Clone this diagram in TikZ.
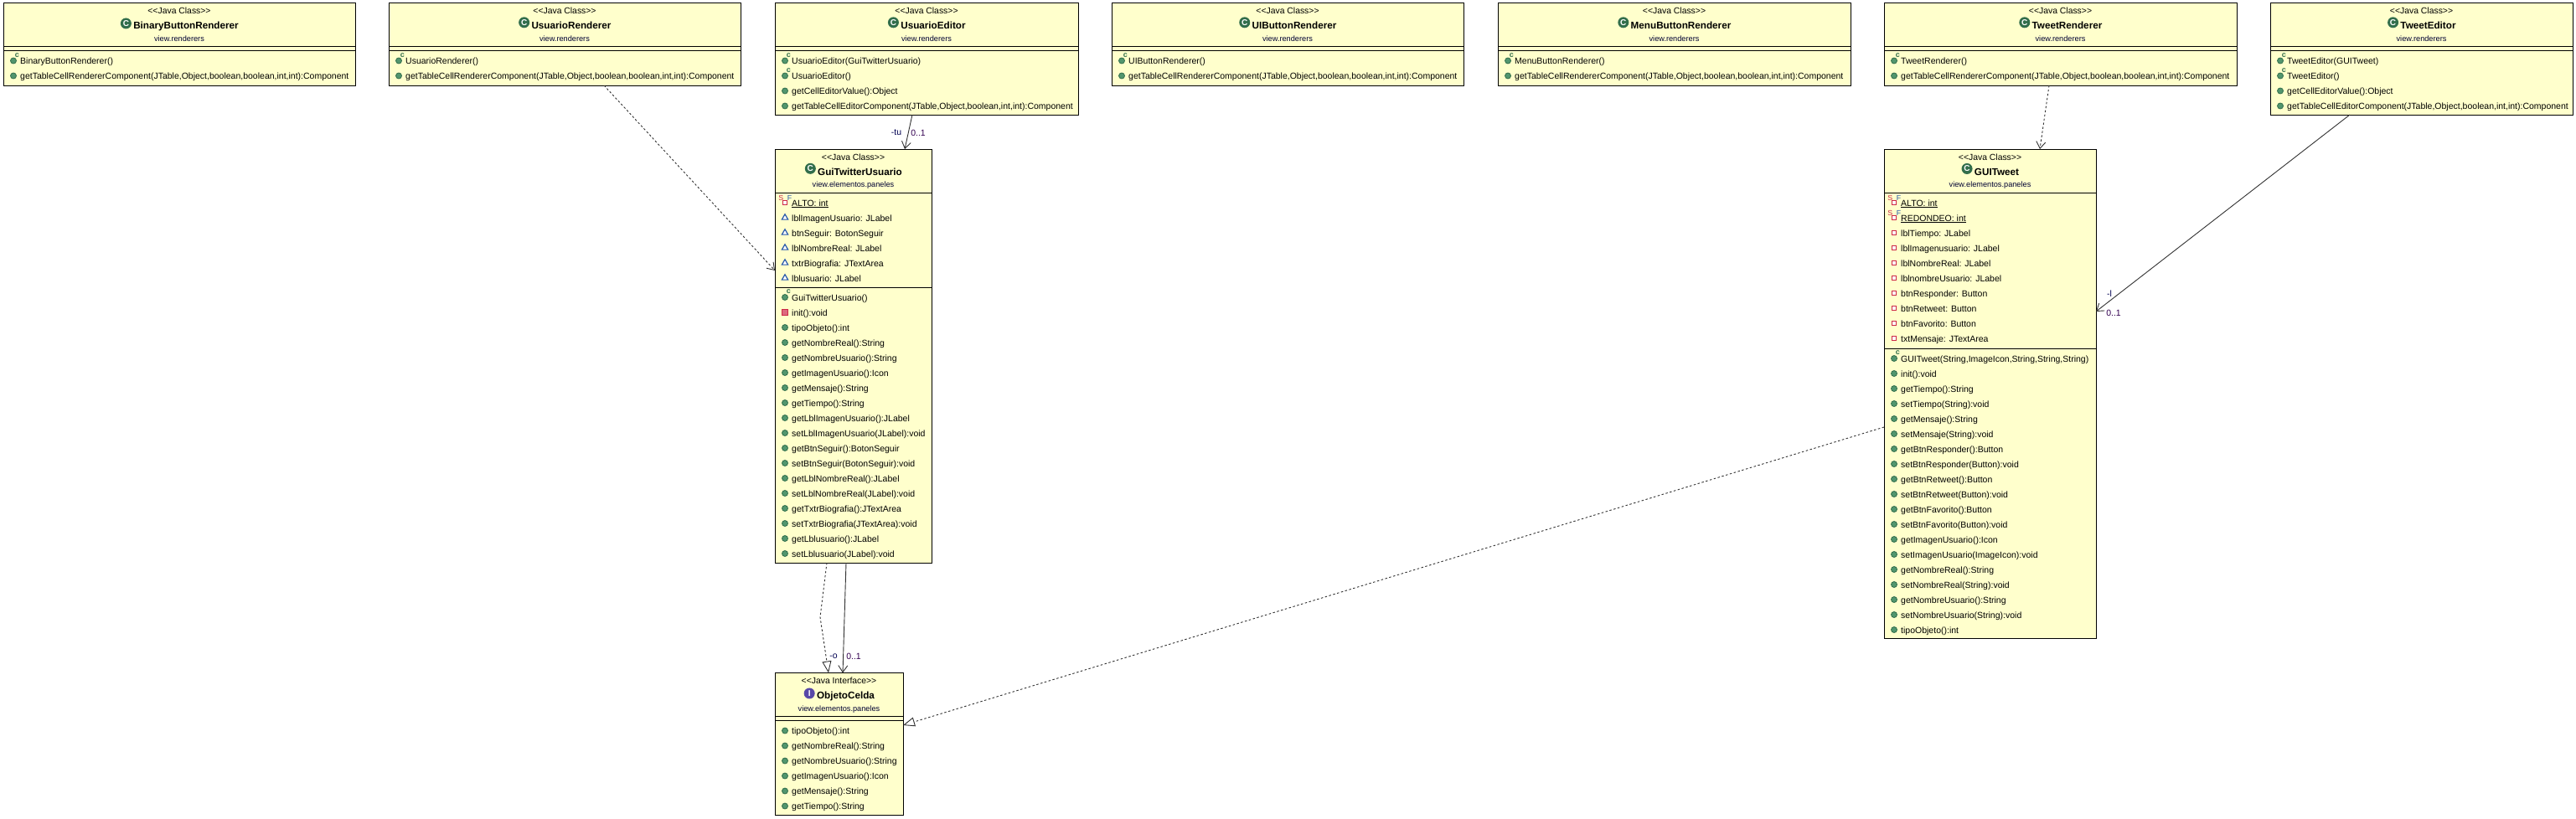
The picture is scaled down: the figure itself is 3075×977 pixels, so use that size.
\documentclass[tikz,border=0pt]{standalone}
\usepackage{fontspec}
\setmainfont{Liberation Sans}
\usetikzlibrary{arrows.meta, calc, positioning, shapes.geometric}
\definecolor{boxfill}{RGB}{255,255,204}
\definecolor{icongreen}{RGB}{82,150,110}
\definecolor{icondark}{RGB}{50,110,75}
\definecolor{iconpurple}{RGB}{88,72,168}
\definecolor{iconred}{RGB}{205,40,70}
\definecolor{iconblue}{RGB}{40,90,170}
\definecolor{rolecol}{RGB}{0,0,80}
\definecolor{mulcol}{RGB}{50,0,80}
\definecolor{linecol}{RGB}{50,50,50}

% one box with its header
\newcommand{\umlclass}[8]{%
    \node[classbox, minimum width=#4, minimum height=#5] (#1) at (#2,#3) {};
    \node[stereo] (#1-st) at ($(#1.north)+(0,13)$) {{<}{<}#6{>}{>}};
    \node[title] (#1-nm) at ($(#1.north)+(8,31)$) {#1};
    \node[#7, left=2pt of #1-nm.west, yshift=3.5pt] (#1-ic) {};
    \node[pack] (#1-pk) at ($(#1.north)+(0,45.5)$) {#8};
}
% rows of a compartment: name, offset of first row, icon/text list
\newcommand{\umlrows}[3]{%
    \foreach \ico/\txt [count=\i from 0] in {#3} {
        \node[rowtxt] (#1-#2-t\i) at ($(#1.north west)+(20,#2+\i*18+4)$) {\txt};
        \node[\ico] (#1-#2-i\i) at ($(#1.north west)+(12,#2+\i*18)$) {};
    }
}
\newcommand{\umldiv}[2]{%
    \draw[divider] ([yshift=-#2]#1.north west) -- ([yshift=-#2]#1.north east);
}

\begin{document}
\begin{tikzpicture}[
    x=1pt, y=-1pt,
    classbox/.style={draw=black, fill=boxfill, line width=1pt, anchor=north west, inner sep=0pt, outer sep=0pt},
    divider/.style={draw=black, line width=1pt},
    stereo/.style={anchor=base, font=\fontsize{10.4}{13}\selectfont, inner sep=0pt},
    title/.style={anchor=base, font=\fontsize{11.7}{14}\selectfont\bfseries, inner sep=0pt},
    pack/.style={anchor=base, font=\fontsize{9.2}{12}\selectfont, text=black!80!blue, inner sep=0pt},
    rowtxt/.style={anchor=base west, font=\fontsize{10.5}{13}\selectfont, inner sep=0pt},
    role/.style={font=\fontsize{10.5}{13}\selectfont, text=rolecol, inner sep=0pt},
    mult/.style={font=\fontsize{10.5}{13}\selectfont, text=mulcol, inner sep=0pt},
    clsicon/.style={circle, fill=icondark, inner sep=0pt, minimum size=13pt, label={[text=white, inner sep=0pt, font=\fontsize{10}{10}\selectfont\bfseries]center:C}},
    inticon/.style={circle, fill=iconpurple, inner sep=0pt, minimum size=13pt, label={[text=white, inner sep=0pt, font=\fontsize{10}{10}\selectfont\bfseries]center:I}},
    meth/.style={circle, fill=icongreen, draw=icondark, line width=.8pt, inner sep=0pt, minimum size=7pt},
    ctor/.style={meth, label={[text=icondark, inner sep=0pt, xshift=-1pt, yshift=1pt, font=\fontsize{9}{9}\selectfont\bfseries]north east:c}},
    mpriv/.style={rectangle, fill=iconred!70, draw=iconred, line width=.8pt, inner sep=0pt, minimum size=6.5pt},
    apkg/.style={regular polygon, regular polygon sides=3, fill=white, draw=iconblue, line width=1.2pt, inner sep=0pt, minimum size=8.5pt},
    apriv/.style={rectangle, fill=white, draw=iconred, line width=1.2pt, inner sep=0pt, minimum size=5.5pt},
    sfinal/.style={apriv, label={[text=iconred, inner sep=0pt, xshift=1.7pt, yshift=-1.3pt, font=\fontsize{8.8}{9}\selectfont]north west:S}, label={[text=iconblue, inner sep=0pt, xshift=-.7pt, yshift=-1pt, font=\fontsize{8.8}{9}\selectfont]north east:F}},
    dep/.style={dash pattern=on 2.5pt off 2.5pt, line width=.9pt, draw=linecol, -{Straight Barb[length=8pt, width=11pt]}},
    assoc/.style={line width=.9pt, draw=linecol, -{Straight Barb[length=8pt, width=11pt]}},
    realize/.style={dash pattern=on 2.5pt off 2.5pt, line width=.9pt, draw=linecol, -{Triangle[length=14pt, width=11pt, fill=white]}}
]
    \useasboundingbox (0,0) rectangle (3075,977);

    % Top row
    \umlclass{BinaryButtonRenderer}{4}{3.5}{420}{98.5}{Java Class}{clsicon}{view.renderers}
    \umldiv{BinaryButtonRenderer}{52} \umldiv{BinaryButtonRenderer}{57}
    \umlrows{BinaryButtonRenderer}{69}{ctor/{BinaryButtonRenderer()}, meth/{getTableCellRendererComponent(JTable,Object,boolean,boolean,int,int):Component}}

    \umlclass{UsuarioRenderer}{464}{3.5}{420}{98.5}{Java Class}{clsicon}{view.renderers}
    \umldiv{UsuarioRenderer}{52} \umldiv{UsuarioRenderer}{57}
    \umlrows{UsuarioRenderer}{69}{ctor/{UsuarioRenderer()}, meth/{getTableCellRendererComponent(JTable,Object,boolean,boolean,int,int):Component}}

    \umlclass{UsuarioEditor}{925}{3.5}{362}{133.5}{Java Class}{clsicon}{view.renderers}
    \umldiv{UsuarioEditor}{52} \umldiv{UsuarioEditor}{57}
    \umlrows{UsuarioEditor}{69}{ctor/{UsuarioEditor(GuiTwitterUsuario)}, ctor/{UsuarioEditor()}, meth/{getCellEditorValue():Object}, meth/{getTableCellEditorComponent(JTable,Object,boolean,int,int):Component}}

    \umlclass{UIButtonRenderer}{1327}{3.5}{420}{98.5}{Java Class}{clsicon}{view.renderers}
    \umldiv{UIButtonRenderer}{52} \umldiv{UIButtonRenderer}{57}
    \umlrows{UIButtonRenderer}{69}{ctor/{UIButtonRenderer()}, meth/{getTableCellRendererComponent(JTable,Object,boolean,boolean,int,int):Component}}

    \umlclass{MenuButtonRenderer}{1788}{3.5}{421}{98.5}{Java Class}{clsicon}{view.renderers}
    \umldiv{MenuButtonRenderer}{52} \umldiv{MenuButtonRenderer}{57}
    \umlrows{MenuButtonRenderer}{69}{ctor/{MenuButtonRenderer()}, meth/{getTableCellRendererComponent(JTable,Object,boolean,boolean,int,int):Component}}

    \umlclass{TweetRenderer}{2249}{3.5}{421}{98.5}{Java Class}{clsicon}{view.renderers}
    \umldiv{TweetRenderer}{52} \umldiv{TweetRenderer}{57}
    \umlrows{TweetRenderer}{69}{ctor/{TweetRenderer()}, meth/{getTableCellRendererComponent(JTable,Object,boolean,boolean,int,int):Component}}

    \umlclass{TweetEditor}{2710}{3.5}{361}{133.5}{Java Class}{clsicon}{view.renderers}
    \umldiv{TweetEditor}{52} \umldiv{TweetEditor}{57}
    \umlrows{TweetEditor}{69}{ctor/{TweetEditor(GUITweet)}, ctor/{TweetEditor()}, meth/{getCellEditorValue():Object}, meth/{getTableCellEditorComponent(JTable,Object,boolean,int,int):Component}}

    % Panels
    \umlclass{GuiTwitterUsuario}{925}{178}{187}{494}{Java Class}{clsicon}{view.elementos.paneles}
    \umldiv{GuiTwitterUsuario}{52} \umldiv{GuiTwitterUsuario}{165}
    \umlrows{GuiTwitterUsuario}{64}{sfinal/{\underline{ALTO: int}}, apkg/{lblImagenUsuario: JLabel}, apkg/{btnSeguir: BotonSeguir}, apkg/{lblNombreReal: JLabel}, apkg/{txtrBiografia: JTextArea}, apkg/{lblusuario: JLabel}}
    \umlrows{GuiTwitterUsuario}{177}{ctor/{GuiTwitterUsuario()}, mpriv/{init():void}, meth/{tipoObjeto():int}, meth/{getNombreReal():String}, meth/{getNombreUsuario():String}, meth/{getImagenUsuario():Icon}, meth/{getMensaje():String}, meth/{getTiempo():String}, meth/{getLblImagenUsuario():JLabel}, meth/{setLblImagenUsuario(JLabel):void}, meth/{getBtnSeguir():BotonSeguir}, meth/{setBtnSeguir(BotonSeguir):void}, meth/{getLblNombreReal():JLabel}, meth/{setLblNombreReal(JLabel):void}, meth/{getTxtrBiografia():JTextArea}, meth/{setTxtrBiografia(JTextArea):void}, meth/{getLblusuario():JLabel}, meth/{setLblusuario(JLabel):void}}

    \umlclass{GUITweet}{2249}{178}{253}{584}{Java Class}{clsicon}{view.elementos.paneles}
    \umldiv{GUITweet}{52} \umldiv{GUITweet}{238}
    \umlrows{GUITweet}{64}{sfinal/{\underline{ALTO: int}}, sfinal/{\underline{REDONDEO: int}}, apriv/{lblTiempo: JLabel}, apriv/{lblImagenusuario: JLabel}, apriv/{lblNombreReal: JLabel}, apriv/{lblnombreUsuario: JLabel}, apriv/{btnResponder: Button}, apriv/{btnRetweet: Button}, apriv/{btnFavorito: Button}, apriv/{txtMensaje: JTextArea}}
    \umlrows{GUITweet}{250}{ctor/{GUITweet(String,ImageIcon,String,String,String)}, meth/{init():void}, meth/{getTiempo():String}, meth/{setTiempo(String):void}, meth/{getMensaje():String}, meth/{setMensaje(String):void}, meth/{getBtnResponder():Button}, meth/{setBtnResponder(Button):void}, meth/{getBtnRetweet():Button}, meth/{setBtnRetweet(Button):void}, meth/{getBtnFavorito():Button}, meth/{setBtnFavorito(Button):void}, meth/{getImagenUsuario():Icon}, meth/{setImagenUsuario(ImageIcon):void}, meth/{getNombreReal():String}, meth/{setNombreReal(String):void}, meth/{getNombreUsuario():String}, meth/{setNombreUsuario(String):void}, meth/{tipoObjeto():int}}

    % Interface
    \umlclass{ObjetoCelda}{925}{803.5}{153}{170}{Java Interface}{inticon}{view.elementos.paneles}
    \umldiv{ObjetoCelda}{52} \umldiv{ObjetoCelda}{57}
    \umlrows{ObjetoCelda}{69}{meth/{tipoObjeto():int}, meth/{getNombreReal():String}, meth/{getNombreUsuario():String}, meth/{getImagenUsuario():Icon}, meth/{getMensaje():String}, meth/{getTiempo():String}}

    % Connectors
    \draw[assoc] ([xshift=164]UsuarioEditor.south west) -- ([xshift=155]GuiTwitterUsuario.north west);
    \draw[dep] ([xshift=257]UsuarioRenderer.south west) -- ([yshift=-145]GuiTwitterUsuario.north west);
    \draw[dep] ([xshift=197]TweetRenderer.south west) -- ([xshift=186]GUITweet.north west);
    \draw[assoc] ([xshift=95]TweetEditor.south west) -- ([yshift=-194]GUITweet.north east);
    \coordinate (bend) at (979,737);
    \draw[realize] ([xshift=62]GuiTwitterUsuario.south west) -- (bend) -- ([xshift=64]ObjetoCelda.north west);
    \draw[assoc] ([xshift=85]GuiTwitterUsuario.south west) -- ([xshift=81]ObjetoCelda.north west);
    \draw[realize] ([yshift=-332]GUITweet.north west) -- ([yshift=-62.5]ObjetoCelda.north east);

    % Connector labels
    \node[role] (tuRole) at (1070,158) {-tu};
    \node[mult] (tuMult) at (1096,159) {0..1};
    \node[role] (oRole) at (995,784) {-o};
    \node[mult] (oMult) at (1019,784) {0..1};
    \node[role] (lRole) at (2518,351) {-l};
    \node[mult] (lMult) at (2523,374) {0..1};
\end{tikzpicture}
\end{document}
